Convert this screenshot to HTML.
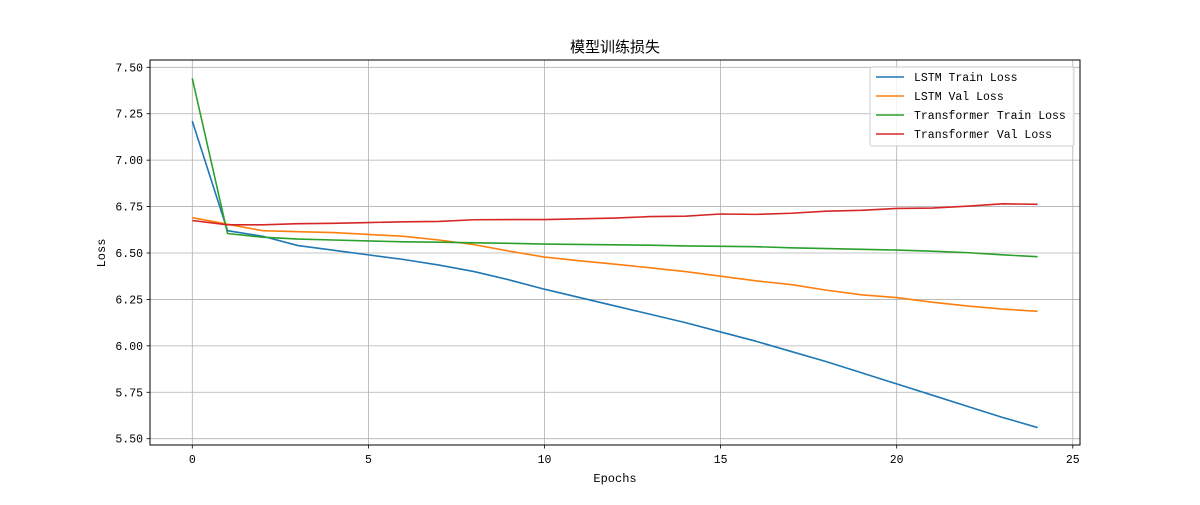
<!DOCTYPE html>
<html><head><meta charset="utf-8"><style>
body{margin:0;background:#fff}
svg text{font-family:"Liberation Mono","Noto Sans CJK SC",monospace;fill:#000}
</style></head><body>
<svg id="chart" width="1200" height="500" xmlns="http://www.w3.org/2000/svg">
<rect width="1200" height="500" fill="#fff"/>
<g id="grid"></g>
<g id="series"></g>
<rect x="150" y="60" width="930" height="385" fill="none" stroke="#000" stroke-width="1"/>
<g id="ticks"></g>
<text x="615" y="52" font-size="15" text-anchor="middle" style="font-family:'Noto Sans CJK SC',sans-serif">模型训练损失</text>
<text x="615" y="482" font-size="12" text-anchor="middle">Epochs</text>
<text x="105" y="253" font-size="12" text-anchor="middle" transform="rotate(-90 105 253)">Loss</text>
<g id="legend"></g>
</svg>
<script>
const epochs=[0,1,2,3,4,5,6,7,8,9,10,11,12,13,14,15,16,17,18,19,20,21,22,23,24];
const lstmTrain=[7.21,6.62,6.59,6.54,6.515,6.49,6.465,6.435,6.40,6.355,6.305,6.26,6.215,6.17,6.125,6.075,6.025,5.97,5.915,5.855,5.795,5.735,5.675,5.615,5.56];
const lstmVal=[6.69,6.655,6.62,6.615,6.61,6.60,6.59,6.57,6.545,6.51,6.478,6.458,6.44,6.42,6.40,6.375,6.35,6.33,6.30,6.275,6.26,6.235,6.215,6.198,6.186];
const transTrain=[7.44,6.605,6.585,6.575,6.57,6.565,6.56,6.558,6.555,6.552,6.548,6.546,6.544,6.542,6.538,6.536,6.534,6.528,6.524,6.52,6.516,6.51,6.502,6.49,6.48];
const transVal=[6.675,6.652,6.652,6.658,6.66,6.664,6.668,6.67,6.679,6.68,6.68,6.684,6.688,6.696,6.698,6.71,6.708,6.714,6.725,6.73,6.74,6.742,6.752,6.765,6.762];
const xTicks=[0,5,10,15,20,25];
const yTicks=[5.50,5.75,6.00,6.25,6.50,6.75,7.00,7.25,7.50];
const seriesNames=["LSTM Train Loss","LSTM Val Loss","Transformer Train Loss","Transformer Val Loss"];
const seriesColors=["#1f77b4","#ff7f0e","#2ca02c","#d62728"];
const seriesData=[lstmTrain,lstmVal,transTrain,transVal];
const NS="http://www.w3.org/2000/svg";
const xS=v=>192.3+v*35.22;
const yS=v=>67.3+(7.5-v)*185.7;
function mk(tag,attrs,parent){const e=document.createElementNS(NS,tag);for(const k in attrs)e.setAttribute(k,attrs[k]);parent.appendChild(e);return e;}
const grid=document.getElementById('grid'),ticks=document.getElementById('ticks');
xTicks.forEach(t=>{const x=xS(t);
 const g=mk('line',{x1:x,x2:x,y1:60,y2:445,stroke:'#b0b0b0','stroke-width':0.8},grid);
 
 
 const tk=mk('line',{x1:x,x2:x,y1:445,y2:448.5,stroke:'#000','stroke-width':0.8},ticks);
 
 
 const tx=mk('text',{x:x,y:463,'font-size':11.5,'text-anchor':'middle'},ticks);tx.textContent=t;
 
 
});
yTicks.forEach(t=>{const y=yS(t);
 const g=mk('line',{x1:150,x2:1080,y1:y,y2:y,stroke:'#b0b0b0','stroke-width':0.8},grid);
 
 
 const tk=mk('line',{x1:146.5,x2:150,y1:y,y2:y,stroke:'#000','stroke-width':0.8},ticks);
 
 
 const tx=mk('text',{x:143,y:y+4,'font-size':11.5,'text-anchor':'end'},ticks);tx.textContent=t.toFixed(2);
 
 
});
const ser=document.getElementById('series');
seriesData.forEach((d,i)=>{
 const p=mk('polyline',{points:d.map((v,j)=>xS(epochs[j])+','+yS(v)).join(' '),fill:'none',stroke:seriesColors[i],'stroke-width':1.6,'stroke-linejoin':'round'},ser);
 
 
});
const lg=document.getElementById('legend');
const box=mk('rect',{x:870,y:67,width:204,height:79,rx:2,fill:'#fff','fill-opacity':0.8,stroke:'#ccc'},lg);


seriesNames.forEach((n,i)=>{const y=77+i*19;
 const l=mk('line',{x1:876,x2:904,y1:y,y2:y,stroke:seriesColors[i],'stroke-width':1.6},lg);
 
 
 const t=mk('text',{x:914,y:y+4,'font-size':11.5},lg);t.textContent=n;
 
 
});
</script>
</body></html>
